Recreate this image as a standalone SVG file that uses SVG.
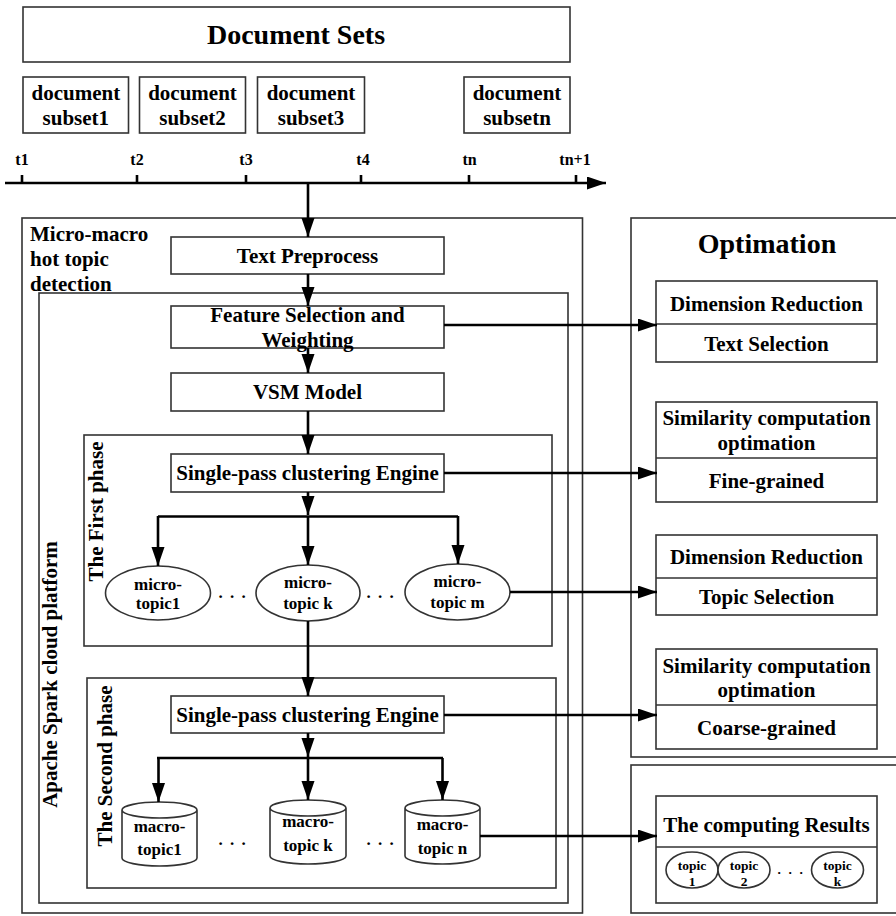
<svg xmlns="http://www.w3.org/2000/svg" width="896" height="916" viewBox="0 0 896 916">
  <defs>
    <marker id="arrow" markerUnits="userSpaceOnUse" markerWidth="20" markerHeight="14" refX="19" refY="6.5" orient="auto">
      <path d="M0,0 L19,6.5 L0,13 z" fill="#000"/>
    </marker>
    <style>
      text { font-family: "Liberation Serif", "Times New Roman", serif; font-weight: bold; fill: #000; }
      .c { text-anchor: middle; }
      .t21 { font-size: 21px; }
      .t28 { font-size: 28px; }
      .t17 { font-size: 17px; }
      .t16 { font-size: 16px; }
      .t13 { font-size: 13.5px; }
      .box { fill: #fff; stroke: #333; stroke-width: 1.6; }
      .frame { fill: none; stroke: #333; stroke-width: 1.6; }
      .div { stroke: #333; stroke-width: 1.6; }
      .wire { fill: none; stroke: #000; stroke-width: 2.6; }
      .arr { fill: none; stroke: #000; stroke-width: 2.6; marker-end: url(#arrow); }
    </style>
  </defs>

  <rect width="896" height="916" fill="#fff"/>

  <!-- containers -->
  <g id="micro-macro-container">
    <rect class="frame" x="22" y="218" width="560.5" height="695"/>
    <text class="t21" x="30" y="241">Micro-macro</text>
    <text class="t21" x="30" y="266">hot topic</text>
    <text class="t21" x="30" y="291">detection</text>
  </g>
  <g id="spark-container">
    <rect class="frame" x="39" y="293" width="529" height="610"/>
    <text class="t21 c" transform="translate(57 674.5) rotate(-90)">Apache Spark cloud platform</text>
  </g>
  <g id="first-phase">
    <rect class="frame" x="84" y="435" width="468" height="211"/>
    <text class="t21 c" transform="translate(102.5 511.5) rotate(-90)">The First phase</text>
  </g>
  <g id="second-phase">
    <rect class="frame" x="87" y="678" width="469" height="210"/>
    <text class="t21 c" transform="translate(112 766) rotate(-90)">The Second phase</text>
  </g>
  <g id="optimation-container">
    <rect class="frame" x="631" y="218" width="280" height="539"/>
    <text class="t28 c" x="767" y="253">Optimation</text>
  </g>
  <g id="results-container">
    <rect class="frame" x="631" y="765" width="280" height="148"/>
  </g>

  <!-- document sets and time axis -->
  <g id="document-sets">
    <rect class="box" x="23" y="7" width="547" height="55"/>
    <text class="t28 c" x="296" y="44">Document Sets</text>
  </g>
  <g id="subset1">
    <rect class="box" x="23" y="77" width="105.5" height="56"/>
    <text class="t21 c" x="75.8" y="100">document</text>
    <text class="t21 c" x="75.8" y="125">subset1</text>
  </g>
  <g id="subset2">
    <rect class="box" x="139.5" y="77" width="106" height="56"/>
    <text class="t21 c" x="192.5" y="100">document</text>
    <text class="t21 c" x="192.5" y="125">subset2</text>
  </g>
  <g id="subset3">
    <rect class="box" x="257.5" y="77" width="107" height="56"/>
    <text class="t21 c" x="311" y="100">document</text>
    <text class="t21 c" x="311" y="125">subset3</text>
  </g>
  <g id="subsetn">
    <rect class="box" x="464" y="77" width="106" height="56"/>
    <text class="t21 c" x="517" y="100">document</text>
    <text class="t21 c" x="517" y="125">subsetn</text>
  </g>
  <g id="time-labels">
    <text class="t16 c" x="22" y="165">t1</text>
    <text class="t16 c" x="137" y="165">t2</text>
    <text class="t16 c" x="246" y="165">t3</text>
    <text class="t16 c" x="363" y="165">t4</text>
    <text class="t16 c" x="469.5" y="165">tn</text>
    <text class="t16 c" x="575" y="165">tn+1</text>
  </g>

  <!-- processing pipeline -->
  <g id="text-preprocess">
    <rect class="box" x="171" y="237" width="273" height="37"/>
    <text class="t21 c" x="307.5" y="263">Text Preprocess</text>
  </g>
  <g id="feature-selection">
    <rect class="box" x="171" y="306" width="273" height="42"/>
    <text class="t21 c" x="307.5" y="322">Feature Selection and</text>
    <text class="t21 c" x="307.5" y="347">Weighting</text>
  </g>
  <g id="vsm-model">
    <rect class="box" x="171" y="373" width="273" height="38"/>
    <text class="t21 c" x="307.5" y="399">VSM Model</text>
  </g>
  <g id="engine-1">
    <rect class="box" x="171" y="454" width="273" height="38"/>
    <text class="t21 c" x="307.5" y="480">Single-pass clustering Engine</text>
  </g>
  <g id="micro-topic1">
    <ellipse class="box" cx="158" cy="593" rx="52.5" ry="27"/>
    <text class="t17 c" x="158" y="590">micro-</text>
    <text class="t17 c" x="158" y="609">topic1</text>
  </g>
  <g id="micro-topick">
    <ellipse class="box" cx="308" cy="593" rx="52" ry="28"/>
    <text class="t17 c" x="308" y="588">micro-</text>
    <text class="t17 c" x="308" y="609">topic k</text>
  </g>
  <g id="micro-topicm">
    <ellipse class="box" cx="457.5" cy="592" rx="52.5" ry="28"/>
    <text class="t17 c" x="457.5" y="587">micro-</text>
    <text class="t17 c" x="457.5" y="608">topic m</text>
  </g>
  <g id="micro-dots">
    <text class="t17" x="218.5 230 241.5" y="597.5">...</text>
    <text class="t17" x="366.5 378 389.5" y="597.5">...</text>
  </g>
  <g id="engine-2">
    <rect class="box" x="171" y="696" width="273" height="37"/>
    <text class="t21 c" x="307.5" y="722">Single-pass clustering Engine</text>
  </g>
  <g id="macro-topic1">
    <path class="box" d="M122,810 A37.5,8 0 0 1 197,810 A37.5,8 0 0 1 122,810 Z M122,810 L122,858 A37.5,8 0 0 0 197,858 L197,810"/>
    <text class="t17 c" x="159.5" y="832">macro-</text>
    <text class="t17 c" x="159.5" y="855">topic1</text>
  </g>
  <g id="macro-topick">
    <path class="box" d="M270,808 A38,8 0 0 1 346,808 A38,8 0 0 1 270,808 Z M270,808 L270,856 A38,8 0 0 0 346,856 L346,808"/>
    <text class="t17 c" x="308" y="827">macro-</text>
    <text class="t17 c" x="308" y="851">topic k</text>
  </g>
  <g id="macro-topicn">
    <path class="box" d="M405,808 A37.5,8 0 0 1 480,808 A37.5,8 0 0 1 405,808 Z M405,808 L405,856 A37.5,8 0 0 0 480,856 L480,808"/>
    <text class="t17 c" x="442.5" y="830">macro-</text>
    <text class="t17 c" x="442.5" y="854">topic n</text>
  </g>
  <g id="macro-dots">
    <text class="t17" x="218.5 230 241.5" y="845">...</text>
    <text class="t17" x="366.5 378 389.5" y="845">...</text>
  </g>

  <!-- optimation blocks -->
  <g id="text-selection">
    <rect class="box" x="656" y="281" width="221" height="81"/>
    <line class="div" x1="656" y1="324" x2="877" y2="324"/>
    <text class="t21 c" x="766.5" y="310.5">Dimension Reduction</text>
    <text class="t21 c" x="766.5" y="350.5">Text Selection</text>
  </g>
  <g id="fine-grained">
    <rect class="box" x="656" y="402" width="221" height="100"/>
    <line class="div" x1="656" y1="458" x2="877" y2="458"/>
    <text class="t21 c" x="766.5" y="425">Similarity computation</text>
    <text class="t21 c" x="766.5" y="449.5">optimation</text>
    <text class="t21 c" x="766.5" y="488">Fine-grained</text>
  </g>
  <g id="topic-selection">
    <rect class="box" x="656" y="535" width="221" height="80"/>
    <line class="div" x1="656" y1="578" x2="877" y2="578"/>
    <text class="t21 c" x="766.5" y="563.5">Dimension Reduction</text>
    <text class="t21 c" x="766.5" y="604">Topic Selection</text>
  </g>
  <g id="coarse-grained">
    <rect class="box" x="656" y="649" width="221" height="100"/>
    <line class="div" x1="656" y1="705" x2="877" y2="705"/>
    <text class="t21 c" x="766.5" y="673">Similarity computation</text>
    <text class="t21 c" x="766.5" y="697">optimation</text>
    <text class="t21 c" x="766.5" y="735">Coarse-grained</text>
  </g>

  <!-- results -->
  <g id="computing-results">
    <rect class="box" x="656" y="796" width="221" height="107"/>
    <line class="div" x1="656" y1="847" x2="877" y2="847"/>
    <text class="t21 c" x="766.5" y="832">The computing Results</text>
    <ellipse class="box" cx="692" cy="870" rx="26" ry="18"/>
    <ellipse class="box" cx="744" cy="870" rx="26" ry="18"/>
    <ellipse class="box" cx="837.5" cy="870" rx="26" ry="18"/>
    <text class="t13 c" x="692" y="870">topic</text>
    <text class="t13 c" x="692" y="886">1</text>
    <text class="t13 c" x="744" y="870">topic</text>
    <text class="t13 c" x="744" y="886">2</text>
    <text class="t13 c" x="837.5" y="870">topic</text>
    <text class="t13 c" x="837.5" y="886">k</text>
    <text class="t13" x="777.5 788.5 799.5" y="874">...</text>
  </g>

  <!-- connectors -->
  <g id="connectors">
    <line class="arr" x1="5" y1="183" x2="606" y2="183"/>
    <path class="wire" d="M22,175 V184 M137,175 V184 M246,175 V184 M361,175 V184 M469,175 V184 M576,175 V184"/>
    <line class="arr" x1="308" y1="183" x2="308" y2="237"/>
    <line class="arr" x1="308" y1="274" x2="308" y2="306"/>
    <line class="arr" x1="308" y1="348" x2="308" y2="373"/>
    <line class="arr" x1="308" y1="411" x2="308" y2="454"/>
    <line class="arr" x1="308" y1="492" x2="308" y2="515"/>
    <line class="wire" x1="158" y1="516.5" x2="458" y2="516.5"/>
    <line class="arr" x1="158" y1="516" x2="158" y2="566"/>
    <line class="arr" x1="308" y1="516" x2="308" y2="565"/>
    <line class="arr" x1="458" y1="516" x2="458" y2="564"/>
    <line class="arr" x1="308" y1="621" x2="308" y2="696"/>
    <line class="arr" x1="308" y1="733" x2="308" y2="757"/>
    <line class="wire" x1="157" y1="758" x2="443" y2="758"/>
    <line class="arr" x1="158.5" y1="758" x2="158.5" y2="802"/>
    <line class="arr" x1="308" y1="758" x2="308" y2="800"/>
    <line class="arr" x1="442.5" y1="758" x2="442.5" y2="800"/>
    <line class="arr" x1="444" y1="325" x2="657" y2="325"/>
    <line class="arr" x1="444" y1="473" x2="657" y2="473"/>
    <line class="arr" x1="510" y1="592" x2="657" y2="592"/>
    <line class="arr" x1="444" y1="715" x2="657" y2="715"/>
    <line class="arr" x1="480" y1="836" x2="657" y2="836"/>
  </g>
</svg>
